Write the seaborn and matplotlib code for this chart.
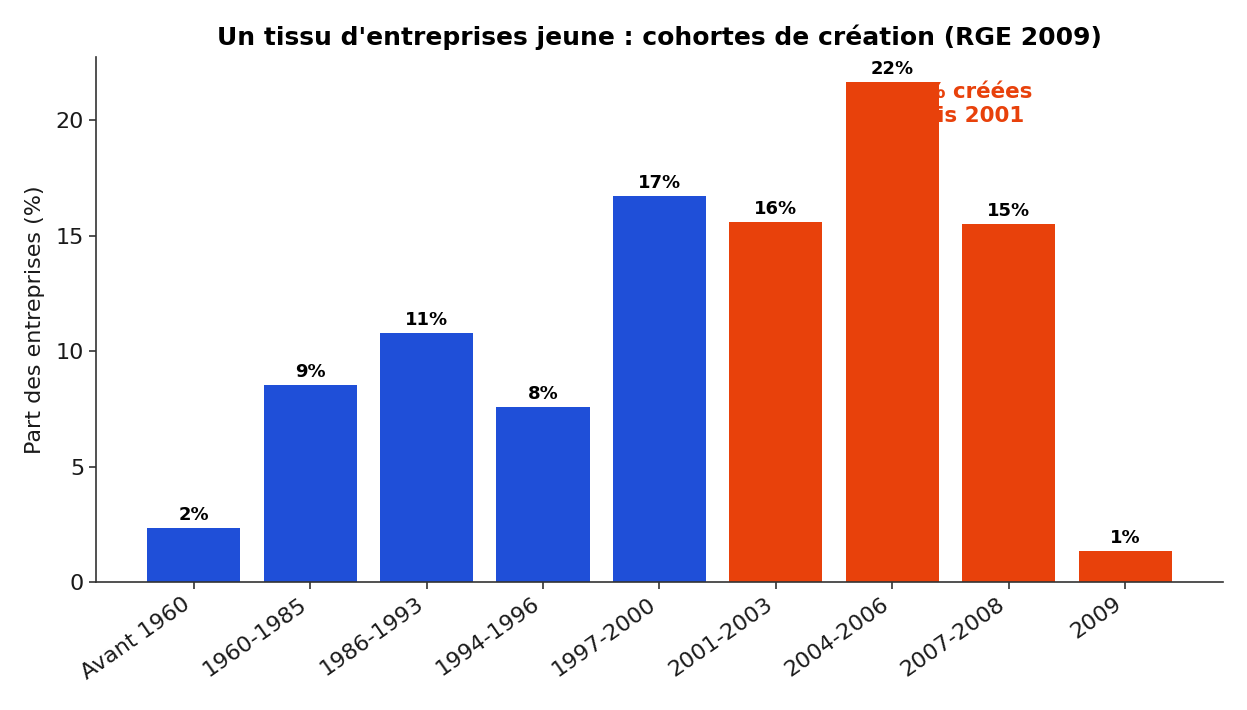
import matplotlib
matplotlib.use("Agg")
import matplotlib.pyplot as plt
import seaborn as sns
import pandas as pd

categories = ["Avant 1960", "1960-1985", "1986-1993", "1994-1996", "1997-2000",
              "2001-2003", "2004-2006", "2007-2008", "2009"]
shares = [2.34, 8.53, 10.78, 7.58, 16.70, 15.57, 21.65, 15.48, 1.34]
periods = ["avant", "avant", "avant", "avant", "avant",
           "depuis", "depuis", "depuis", "depuis"]
title = "Un tissu d'entreprises jeune : cohortes de création (RGE 2009)"
ylabel = "Part des entreprises (%)"
annotation = "≈ 54% créées\ndepuis 2001"

BLUE = "#1f4fd8"
ORANGE = "#e8410b"
palette = {"avant": BLUE, "depuis": ORANGE}

df = pd.DataFrame({"cohorte": categories, "part": shares, "periode": periods})

sns.set_style("ticks")
plt.rcParams["font.family"] = ["DejaVu Sans"]

fig = plt.figure(figsize=(12.47, 7.10), dpi=100)
ax = fig.add_axes([0.077, 0.1803, 0.9037, 0.7394])

sns.barplot(data=df, x="cohorte", y="part", hue="periode", palette=palette,
            saturation=1, legend=False, dodge=False, width=0.8,
            linewidth=0, edgecolor="none", ax=ax)

for cont in ax.containers:
    ax.bar_label(cont, labels=[f"{v:.0f}%" for v in cont.datavalues],
                 padding=3, fontsize=13, fontweight="bold", color="black")

ax.text(6.5, 20.7, annotation, ha="center", va="center", fontsize=15.4,
        fontweight="bold", color=ORANGE, zorder=0.5)

ax.set_title(title, fontsize=18, fontweight="bold", color="black", pad=9)
ax.set_ylabel(ylabel, fontsize=16, color=".1", labelpad=8)
ax.set_xlabel("")
ax.tick_params(axis="both", labelsize=16, length=5, width=1.2, colors=".2",
               labelcolor=".1")
ax.set_yticks([0, 5, 10, 15, 20])
plt.setp(ax.get_xticklabels(), rotation=35, ha="right")
ax.margins(x=0.05, y=0.05)
ax.set_xlim(-0.84, 8.84)
sns.despine(ax=ax)
for s in ["left", "bottom"]:
    ax.spines[s].set_color(".2")
    ax.spines[s].set_linewidth(1.2)

fig.savefig("out.png", dpi=100)
